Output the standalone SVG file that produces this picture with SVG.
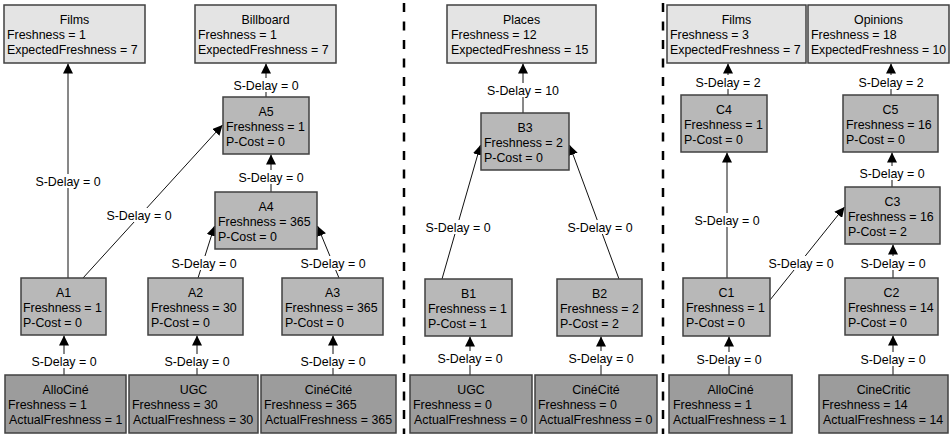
<svg xmlns="http://www.w3.org/2000/svg" width="951" height="434" viewBox="0 0 951 434">
<style>
text{font-family:"Liberation Sans",Arial,sans-serif;font-size:12.4px;fill:#000}
.t{text-anchor:middle}
.top{fill:#e4e4e4;stroke:#404040;stroke-width:1.5}
.mid{fill:#b8b8b8;stroke:#404040;stroke-width:1.5}
.src{fill:#9c9c9c;stroke:#404040;stroke-width:1.5}
.e{stroke:#111;stroke-width:1;fill:none;marker-end:url(#ah)}
.lb{fill:#fff}
.lt{text-anchor:middle}
.sep{stroke:#000;stroke-width:2.5;stroke-dasharray:9 9.5}
</style>
<defs>
<marker id="ah" markerUnits="userSpaceOnUse" markerWidth="10" markerHeight="10" refX="9" refY="4.5" orient="auto" viewBox="0 0 9 9">
<path d="M0,0 L9,4.5 L0,9 z" fill="#000"/>
</marker>
</defs>
<rect width="951" height="434" fill="#fff"/>
<g id="separators">
<line class="sep" x1="404" y1="3" x2="404" y2="434"/>
<line class="sep" x1="663" y1="3" x2="663" y2="434"/>
</g>
<g id="connectors">
<line class="e" x1="68" y1="278" x2="68" y2="63.5"/>
<line class="e" x1="83" y1="278" x2="222.5" y2="125"/>
<line class="e" x1="266" y1="97" x2="266" y2="63.5"/>
<line class="e" x1="271" y1="192" x2="271" y2="154.5"/>
<line class="e" x1="198" y1="278" x2="214.5" y2="226"/>
<line class="e" x1="339" y1="278" x2="317.5" y2="226"/>
<line class="e" x1="64" y1="375" x2="64" y2="335.5"/>
<line class="e" x1="197" y1="375" x2="197" y2="335.5"/>
<line class="e" x1="333" y1="375" x2="333" y2="335.5"/>
<line class="e" x1="523" y1="113" x2="523" y2="63.5"/>
<line class="e" x1="442" y1="279" x2="480.5" y2="145"/>
<line class="e" x1="619" y1="279" x2="569.5" y2="145"/>
<line class="e" x1="470" y1="375" x2="470" y2="336.5"/>
<line class="e" x1="601" y1="375" x2="601" y2="336.5"/>
<line class="e" x1="728" y1="95" x2="728" y2="63.5"/>
<line class="e" x1="891" y1="95" x2="891" y2="63.5"/>
<line class="e" x1="727" y1="278" x2="727" y2="152.5"/>
<line class="e" x1="770" y1="300" x2="844.5" y2="207"/>
<line class="e" x1="892" y1="187" x2="892" y2="152.5"/>
<line class="e" x1="893" y1="278" x2="893" y2="244.5"/>
<line class="e" x1="729" y1="375" x2="729" y2="336.5"/>
<line class="e" x1="893" y1="375" x2="893" y2="335.5"/>
<g id="labels">
<rect class="lb" x="36" y="174" width="64" height="14"/><text class="lt" x="68" y="185.5">S-Delay = 0</text>
<rect class="lb" x="107" y="208" width="64" height="14"/><text class="lt" x="139" y="219.5">S-Delay = 0</text>
<rect class="lb" x="234" y="78" width="64" height="14"/><text class="lt" x="266" y="89.5">S-Delay = 0</text>
<rect class="lb" x="239" y="170" width="64" height="14"/><text class="lt" x="271" y="181.5">S-Delay = 0</text>
<rect class="lb" x="172" y="256" width="64" height="14"/><text class="lt" x="204" y="267.5">S-Delay = 0</text>
<rect class="lb" x="301" y="256" width="64" height="14"/><text class="lt" x="333" y="267.5">S-Delay = 0</text>
<rect class="lb" x="32" y="354" width="64" height="14"/><text class="lt" x="64" y="365.5">S-Delay = 0</text>
<rect class="lb" x="165" y="354" width="64" height="14"/><text class="lt" x="197" y="365.5">S-Delay = 0</text>
<rect class="lb" x="301" y="354" width="64" height="14"/><text class="lt" x="333" y="365.5">S-Delay = 0</text>
<rect class="lb" x="488" y="83" width="70" height="14"/><text class="lt" x="523" y="94.5">S-Delay = 10</text>
<rect class="lb" x="426" y="220" width="64" height="14"/><text class="lt" x="458" y="231.5">S-Delay = 0</text>
<rect class="lb" x="568" y="220" width="64" height="14"/><text class="lt" x="600" y="231.5">S-Delay = 0</text>
<rect class="lb" x="438" y="351" width="64" height="14"/><text class="lt" x="470" y="362.5">S-Delay = 0</text>
<rect class="lb" x="569" y="351" width="64" height="14"/><text class="lt" x="601" y="362.5">S-Delay = 0</text>
<rect class="lb" x="696" y="75" width="64" height="14"/><text class="lt" x="728" y="86.5">S-Delay = 2</text>
<rect class="lb" x="859" y="75" width="64" height="14"/><text class="lt" x="891" y="86.5">S-Delay = 2</text>
<rect class="lb" x="695" y="213" width="64" height="14"/><text class="lt" x="727" y="224.5">S-Delay = 0</text>
<rect class="lb" x="769" y="256" width="64" height="14"/><text class="lt" x="801" y="267.5">S-Delay = 0</text>
<rect class="lb" x="860" y="166" width="64" height="14"/><text class="lt" x="892" y="177.5">S-Delay = 0</text>
<rect class="lb" x="861" y="256" width="64" height="14"/><text class="lt" x="893" y="267.5">S-Delay = 0</text>
<rect class="lb" x="697" y="352" width="64" height="14"/><text class="lt" x="729" y="363.5">S-Delay = 0</text>
<rect class="lb" x="861" y="352" width="64" height="14"/><text class="lt" x="893" y="363.5">S-Delay = 0</text>
</g>
</g>
<g id="Films1"><rect class="top" x="4" y="5" width="141" height="58"/><text class="t" x="74.5" y="24">Films</text><text x="7" y="39">Freshness = 1</text><text x="7" y="54">ExpectedFreshness = 7</text></g>
<g id="Billboard"><rect class="top" x="195" y="5" width="141" height="58"/><text class="t" x="265.5" y="24">Billboard</text><text x="198" y="39">Freshness = 1</text><text x="198" y="54">ExpectedFreshness = 7</text></g>
<g id="A5"><rect class="mid" x="223" y="97" width="86" height="57"/><text class="t" x="266" y="116">A5</text><text x="226" y="131">Freshness = 1</text><text x="226" y="146">P-Cost = 0</text></g>
<g id="A4"><rect class="mid" x="215" y="192" width="102" height="57"/><text class="t" x="266" y="211">A4</text><text x="218" y="226">Freshness = 365</text><text x="218" y="241">P-Cost = 0</text></g>
<g id="A1"><rect class="mid" x="21" y="278" width="85" height="57"/><text class="t" x="63.5" y="297">A1</text><text x="23" y="312">Freshness = 1</text><text x="23" y="327">P-Cost = 0</text></g>
<g id="A2"><rect class="mid" x="148" y="278" width="95" height="57"/><text class="t" x="195.5" y="297">A2</text><text x="151" y="312">Freshness = 30</text><text x="151" y="327">P-Cost = 0</text></g>
<g id="A3"><rect class="mid" x="282" y="278" width="101" height="57"/><text class="t" x="332.5" y="297">A3</text><text x="285" y="312">Freshness = 365</text><text x="285" y="327">P-Cost = 0</text></g>
<g id="AlloCine1"><rect class="src" x="5" y="375" width="121" height="58"/><text class="t" x="65.5" y="394">AlloCiné</text><text x="8" y="409">Freshness = 1</text><text x="9" y="424">ActualFreshness = 1</text></g>
<g id="UGC1"><rect class="src" x="129" y="375" width="129" height="58"/><text class="t" x="193.5" y="394">UGC</text><text x="132" y="409">Freshness = 30</text><text x="133" y="424">ActualFreshness = 30</text></g>
<g id="CineCite1"><rect class="src" x="261" y="375" width="135" height="58"/><text class="t" x="328.5" y="394">CinéCité</text><text x="264" y="409">Freshness = 365</text><text x="265" y="424">ActualFreshness = 365</text></g>
<g id="Places"><rect class="top" x="447" y="5" width="149" height="58"/><text class="t" x="521.5" y="24">Places</text><text x="451" y="39">Freshness = 12</text><text x="451" y="54">ExpectedFreshness = 15</text></g>
<g id="B3"><rect class="mid" x="481" y="113" width="88" height="57"/><text class="t" x="525" y="132">B3</text><text x="484" y="147">Freshness = 2</text><text x="484" y="162">P-Cost = 0</text></g>
<g id="B1"><rect class="mid" x="425" y="279" width="87" height="57"/><text class="t" x="468.5" y="298">B1</text><text x="428" y="313">Freshness = 1</text><text x="428" y="328">P-Cost = 1</text></g>
<g id="B2"><rect class="mid" x="557" y="279" width="85" height="57"/><text class="t" x="599.5" y="298">B2</text><text x="560" y="313">Freshness = 2</text><text x="560" y="328">P-Cost = 2</text></g>
<g id="UGC2"><rect class="src" x="410" y="375" width="122" height="58"/><text class="t" x="471" y="394">UGC</text><text x="413" y="409">Freshness = 0</text><text x="414" y="424">ActualFreshness = 0</text></g>
<g id="CineCite2"><rect class="src" x="535" y="375" width="122" height="58"/><text class="t" x="596" y="394">CinéCité</text><text x="538" y="409">Freshness = 0</text><text x="539" y="424">ActualFreshness = 0</text></g>
<g id="Films2"><rect class="top" x="667" y="5" width="139" height="58"/><text class="t" x="736.5" y="24">Films</text><text x="670" y="39">Freshness = 3</text><text x="670" y="54">ExpectedFreshness = 7</text></g>
<g id="Opinions"><rect class="top" x="808" y="5" width="141" height="58"/><text class="t" x="878.5" y="24">Opinions</text><text x="811" y="39">Freshness = 18</text><text x="811" y="54" textLength="135" lengthAdjust="spacingAndGlyphs">ExpectedFreshness = 10</text></g>
<g id="C4"><rect class="mid" x="681" y="95" width="86" height="57"/><text class="t" x="724" y="114">C4</text><text x="684" y="129">Freshness = 1</text><text x="684" y="144">P-Cost = 0</text></g>
<g id="C5"><rect class="mid" x="843" y="95" width="95" height="57"/><text class="t" x="890.5" y="114">C5</text><text x="846" y="129">Freshness = 16</text><text x="846" y="144">P-Cost = 0</text></g>
<g id="C3"><rect class="mid" x="845" y="187" width="95" height="57"/><text class="t" x="892.5" y="206">C3</text><text x="848" y="221">Freshness = 16</text><text x="848" y="236">P-Cost = 2</text></g>
<g id="C1"><rect class="mid" x="683" y="278" width="87" height="58"/><text class="t" x="726.5" y="297">C1</text><text x="686" y="312">Freshness = 1</text><text x="686" y="327">P-Cost = 0</text></g>
<g id="C2"><rect class="mid" x="845" y="278" width="93" height="57"/><text class="t" x="891.5" y="297">C2</text><text x="848" y="312">Freshness = 14</text><text x="848" y="327">P-Cost = 0</text></g>
<g id="AlloCine2"><rect class="src" x="669" y="375" width="123" height="58"/><text class="t" x="730.5" y="394">AlloCiné</text><text x="673" y="409">Freshness = 1</text><text x="673" y="424">ActualFreshness = 1</text></g>
<g id="CineCritic"><rect class="src" x="819" y="375" width="129" height="58"/><text class="t" x="883.5" y="394">CineCritic</text><text x="822" y="409">Freshness = 14</text><text x="823" y="424">ActualFreshness = 14</text></g>
</svg>
